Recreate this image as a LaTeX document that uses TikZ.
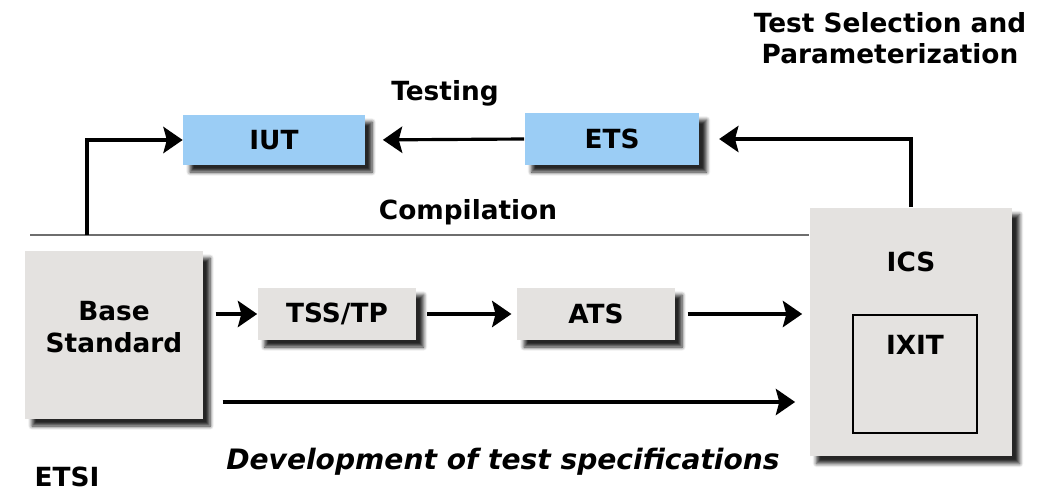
\documentclass[tikz,border=0pt]{standalone}
\usepackage{fontspec}
\setmainfont{DejaVu Sans}
\usepackage{tikz}
\usetikzlibrary{calc}
\usetikzlibrary{arrows.meta}
\usetikzlibrary{shadows.blur}

\definecolor{boxgray}{RGB}{228,226,224}
\definecolor{boxblue}{RGB}{155,205,245}
\definecolor{linegray}{RGB}{110,110,110}

\begin{document}
\begin{tikzpicture} [x=.02cm, y=-.02cm,
  font=\fontsize{15}{18}\selectfont\bfseries,
  box/.style={rectangle, inner sep=0pt, blur shadow={shadow xshift=4pt, shadow yshift=-4pt, shadow blur steps=6, shadow opacity=85}},
  graybox/.style={box, fill=boxgray},
  bluebox/.style={box, fill=boxblue},
  arr/.style={line width=1.8pt, -{Stealth[length=11pt, width=15pt, inset=2pt]}}]
\useasboundingbox (0,0) rectangle (1040,493);

% boxes
\node[graybox, minimum width=3.56cm, minimum height=3.36cm] (base) at (114,335) {};
\node[align=center] (baselab) at (114,327) {Base\\Standard};
\node[graybox, minimum width=4.06cm, minimum height=4.98cm] (ics) at (911,332) {};
\node (icslab) at (911,262) {ICS};
\node[draw, line width=.8pt, minimum width=2.48cm, minimum height=2.36cm] (ixit) at (915,374) {};
\node (ixitlab) at (915,345) {IXIT};
\node[graybox, minimum width=3.18cm, minimum height=1.04cm] (tss) at (337,314) {TSS/TP};
\node[graybox, minimum width=3.16cm, minimum height=1.04cm] (ats) at (596,314) {ATS};
\node[bluebox, minimum width=3.64cm, minimum height=1.0cm] (iut) at (274,140) {IUT};
\node[bluebox, minimum width=3.5cm, minimum height=1.04cm] (ets) at (612,139) {ETS};

% compilation line and feedback to the IUT
\coordinate (cstart) at (30,235);
\coordinate (cup) at (87,235);
\draw[linegray, line width=1.2pt] (cstart) -- (cstart -| ics.west);
\draw[arr] (cup) |- (iut.west);
\draw[arr, shorten >=10pt] (ets.west) -- (iut.east);
\draw[arr, shorten >=11pt] (ics.north) |- (ets.east);

% development chain
\draw[arr, shorten <=7pt] (base.east |- tss.west) -- (tss.west);
\draw[arr, shorten <=6pt, shorten >=3pt] (tss.east) -- (ats.west);
\draw[arr, shorten <=7pt, shorten >=4pt] (ats.east) -- (ats.east -| ics.west);
\coordinate (dev) at (114,402);
\draw[arr, shorten <=11pt, shorten >=8pt] (dev -| base.east) -- (dev -| ics.west);

% labels
\node (testing) at (445,93) {Testing};
\node (compil) at (468,212) {Compilation};
\node[align=center] (tsel) at (890,38) {Test Selection and\\Parameterization};
\node[font=\fontsize{16}{18}\selectfont\bfseries\itshape] (devlab) at (503,462) {Development of test specifications};
\node (etsi) at (67,477) {ETSI};

\end{tikzpicture}
\end{document}
